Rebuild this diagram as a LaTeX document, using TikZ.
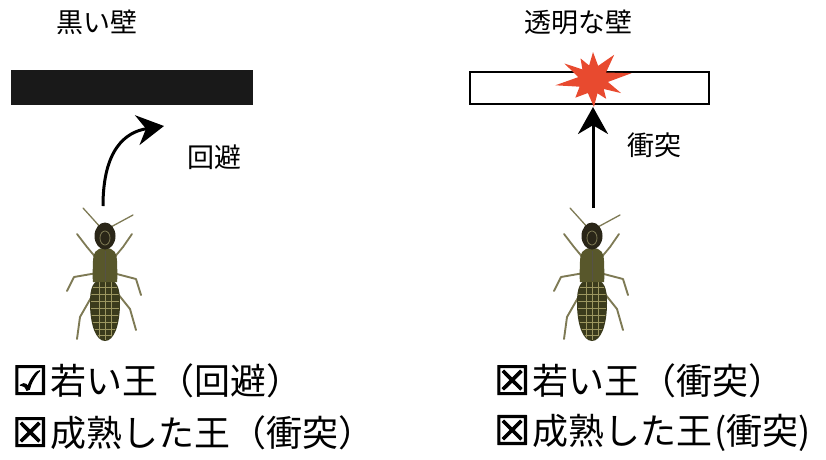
\documentclass[tikz,border=0pt]{standalone}
\usepackage{fontspec}
\setmainfont{Noto Sans CJK JP}
\newfontfamily\symfont{DejaVu Sans}[FakeBold=2.5]
\usetikzlibrary{arrows.meta}
\definecolor{bodydark}{HTML}{2A2618}
\definecolor{bodyolive}{HTML}{58572B}
\definecolor{abdomen}{HTML}{3B3B1C}
\definecolor{paleline}{HTML}{9C9660}
\definecolor{legcol}{HTML}{7E7A55}
\definecolor{burst}{HTML}{E84A2F}
\newcommand{\boxmark}[1]{{\fontsize{40}{40}\selectfont\symfont #1}\kern2pt}
\tikzset{
  label/.style={font=\fontsize{27}{29}\selectfont, inner sep=0pt},
  result/.style={font=\fontsize{36}{38}\selectfont, inner sep=0pt, anchor=west},
  move/.style={line width=3pt, -{Stealth[length=27pt,width=30pt]}},
  termite/.pic={
    % antennae
    \draw[legcol, line width=1.3pt, line cap=round] (-4,-9) .. controls (-12,-18) .. (-22,-29);
    \draw[legcol, line width=1.3pt, line cap=round] (4,-9) .. controls (16,-16) .. (28,-22);
    % front legs
    \draw[legcol, line width=1.8pt, line cap=round, line join=round] (-8,22) -- (-18,10) -- (-28,-3);
    \draw[legcol, line width=1.8pt, line cap=round, line join=round] (8,22) -- (18,10) -- (27,-3);
    % middle legs
    \draw[legcol, line width=1.9pt, line cap=round, line join=round] (-8,36) -- (-31,40) -- (-38,54);
    \draw[legcol, line width=1.9pt, line cap=round, line join=round] (8,36) -- (31,42) -- (36,58);
    % hind legs
    \draw[legcol, line width=1.9pt, line cap=round, line join=round] (-9,52) -- (-25,80) -- (-28,102);
    \draw[legcol, line width=1.9pt, line cap=round, line join=round] (9,52) -- (25,72) -- (31,93);
    % abdomen with pale segment lines
    \fill[abdomen] (0,42) .. controls (13,42) and (15,52) .. (15,66)
      .. controls (15,88) and (9,104) .. (0,104)
      .. controls (-9,104) and (-15,88) .. (-15,66)
      .. controls (-15,52) and (-13,42) .. (0,42) -- cycle;
    \begin{scope}
      \clip (0,43) .. controls (12,43) and (14,52) .. (14,66)
      .. controls (14,88) and (8,103) .. (0,103)
      .. controls (-8,103) and (-14,88) .. (-14,66)
      .. controls (-14,52) and (-12,43) .. (0,43) -- cycle;
      \foreach \yy in {50,57,64,71,78,85,92,98}
        \draw[paleline, line width=0.8pt] (-15,\yy) -- (15,\yy);
      \foreach \xx in {-6,0,6}
        \draw[paleline, line width=0.7pt] (\xx,44) -- (\xx,106);
    \end{scope}
    % thorax
    \fill[bodyolive] (0,11) .. controls (10,11) and (12,17) .. (12,24)
      .. controls (12,32) and (13,38) .. (12,45) -- (-12,45)
      .. controls (-13,38) and (-12,32) .. (-12,24)
      .. controls (-12,17) and (-10,11) .. (0,11) -- cycle;
    \draw[bodydark!80, line width=1pt] (0,14) -- (0,44);
    % head
    \fill[bodydark] (0,-1) ellipse [x radius=10.5, y radius=13.5];
    \draw[legcol, line width=0.8pt] (0,1) ellipse [x radius=5, y radius=7];
  }
}
\begin{document}
\begin{tikzpicture}[x=1pt,y=-1pt]
\useasboundingbox (0,0) rectangle (826,459);

% left panel: black wall and avoidance
\node[label] (wallA) at (97,22) {黒い壁};
\fill[black!90] (11,70) rectangle (253,105);
\pic at (105,237) {termite};
\coordinate (startA) at (103,206);
\coordinate (tipA) at (164,126);
\draw[move] (startA) .. controls (103,150) and (125,132) .. (tipA);
\node[label] (avoid) at (214,157) {回避};

% right panel: transparent wall and collision
\node[label] (wallB) at (578,22) {透明な壁};
\draw[line width=2.6pt] (470,72) rectangle (709,104);
\begin{scope}[shift={(593,80)}]
  \fill[burst] (-90:28) -- (-70:15) -- (-50:33) -- (-30:15) -- (-10:39)
    -- (7.5:15) -- (25:31) -- (40:14) -- (55:23) -- (71.5:14) -- (88:27)
    -- (111.5:14) -- (135:25) -- (153.5:15) -- (172:38) -- (-169:15)
    -- (-150:33) -- (-135:15) -- (-120:25) -- (-105:15) -- cycle;
\end{scope}
\pic at (592,237) {termite};
\coordinate (startB) at (593,208);
\coordinate (tipB) at (593,107);
\draw[move] (startB) -- (tipB);
\node[label] (hit) at (654,145) {衝突};

% outcomes
\node[result] (youngA) at (12,381) {\boxmark{☑}若い王（回避）};
\node[result] (matureA) at (12,433) {\boxmark{☒}成熟した王（衝突）};
\node[result] (youngB) at (494,381) {\boxmark{☒}若い王（衝突）};
\node[result] (matureB) at (494,433) {\boxmark{☒}成熟した王\kern2pt(衝突)};
\end{tikzpicture}
\end{document}
